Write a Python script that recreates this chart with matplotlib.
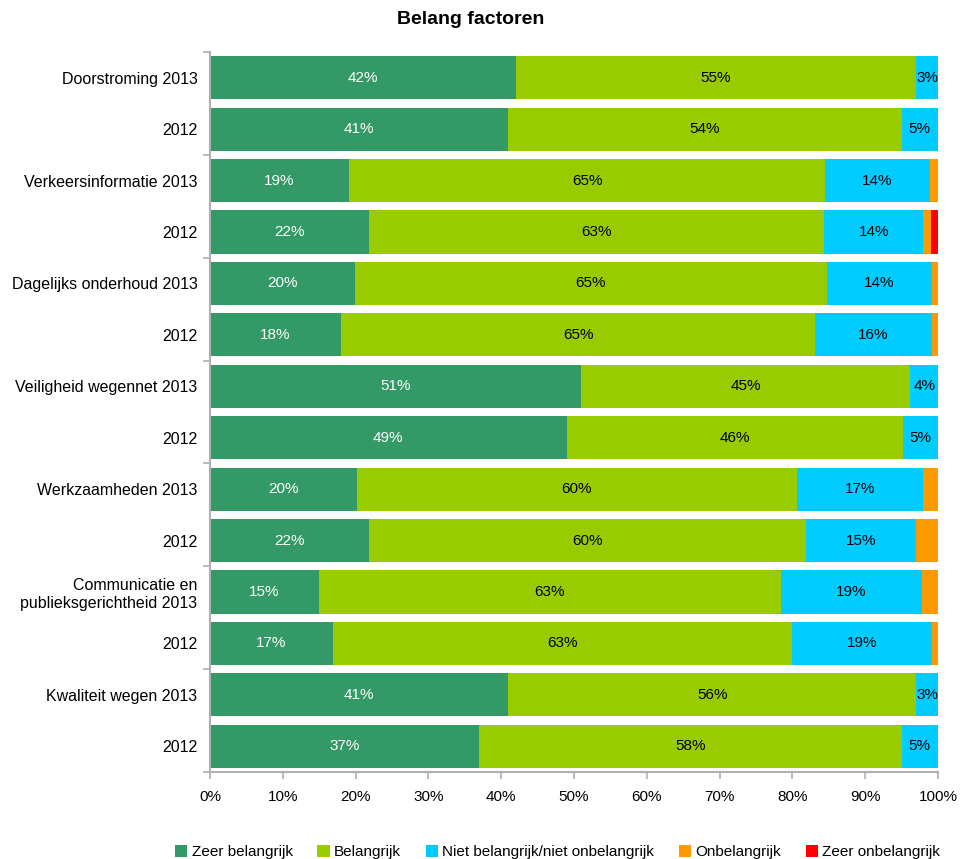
import numpy as np
import matplotlib.pyplot as plt

plt.rcParams['font.family'] = ['Liberation Sans', 'DejaVu Sans']

# Rows top to bottom
rows = ['Doorstroming 2013', '2012',
        'Verkeersinformatie 2013', '2012',
        'Dagelijks onderhoud 2013', '2012',
        'Veiligheid wegennet 2013', '2012',
        'Werkzaamheden 2013', '2012',
        'Communicatie en\npublieksgerichtheid 2013', '2012',
        'Kwaliteit wegen 2013', '2012']

series = ['Zeer belangrijk', 'Belangrijk', 'Niet belangrijk/niet onbelangrijk',
          'Onbelangrijk', 'Zeer onbelangrijk']

zeer_belangrijk = [42, 41, 19.1, 21.8, 19.9, 18.0, 51, 49, 20.2, 21.8, 15.0, 16.9, 41, 37]
belangrijk = [55, 54, 65.4, 62.6, 64.8, 65.1, 45.2, 46.2, 60.4, 60.0, 63.4, 63.1, 56, 58]
neutraal = [3, 5, 14.4, 13.6, 14.5, 16.1, 3.8, 4.8, 17.4, 15.2, 19.4, 19.2, 3, 5]
onbelangrijk = [0, 0, 1.1, 1.0, 0.8, 0.8, 0, 0, 2.0, 3.0, 2.2, 0.8, 0, 0]
zeer_onbelangrijk = [0, 0, 0, 1.0, 0, 0, 0, 0, 0, 0, 0, 0, 0, 0]

colors = ['#339966', '#99CC00', '#00CCFF', '#FF9900', '#FF0000']
label_colors = ['white', 'black', 'black', None, None]

data = [zeer_belangrijk, belangrijk, neutraal, onbelangrijk, zeer_onbelangrijk]

fig = plt.figure(figsize=(9.7, 8.59), dpi=100)
ax = fig.add_axes([210 / 970, 1 - 772 / 859, 728 / 970, 720 / 859])

y = np.arange(len(rows))
left = np.zeros(len(rows))
for vals, name, col, lcol in zip(data, series, colors, label_colors):
    vals = np.array(vals, dtype=float)
    ax.barh(y, vals, left=left, height=0.84, color=col, label=name, edgecolor='none')
    if lcol is not None:
        for yi, (l, v) in enumerate(zip(left, vals)):
            if v > 0:
                ax.text(l + v / 2, yi, f'{v:.0f}%', ha='center', va='center',
                        color=lcol, fontsize=11)
    left += vals

ax.set_xlim(0, 100)
ax.set_ylim(len(rows) - 0.5, -0.5)
ax.set_xticks(np.arange(0, 101, 10))
ax.set_xticklabels([f'{v}%' for v in range(0, 101, 10)], fontsize=11)
ax.set_yticks(y)
ax.set_yticklabels(rows, fontsize=11.5)
ax.set_yticks(np.arange(-0.5, len(rows), 2), minor=True)
ax.tick_params(axis='y', which='major', length=0, pad=9)
ax.tick_params(axis='y', which='minor', length=5, color='#b0b0b0', width=1.2)
ax.tick_params(axis='x', length=5, color='#b0b0b0', width=1.2, pad=8)

for s in ['top', 'right']:
    ax.spines[s].set_visible(False)
for s in ['left', 'bottom']:
    ax.spines[s].set_color('#b0b0b0')
    ax.spines[s].set_linewidth(1.5)

fig.text(471 / 970, 1 - 20 / 859, 'Belang factoren', fontsize=14, fontweight='bold',
         ha='center', va='center')

fig.legend(loc='lower center', ncol=5, bbox_to_anchor=(0.575, -0.016), frameon=False,
           fontsize=11, handlelength=0.8, handleheight=0.8, handletextpad=0.3,
           columnspacing=1.6)

fig.savefig('out.png', dpi=100)
